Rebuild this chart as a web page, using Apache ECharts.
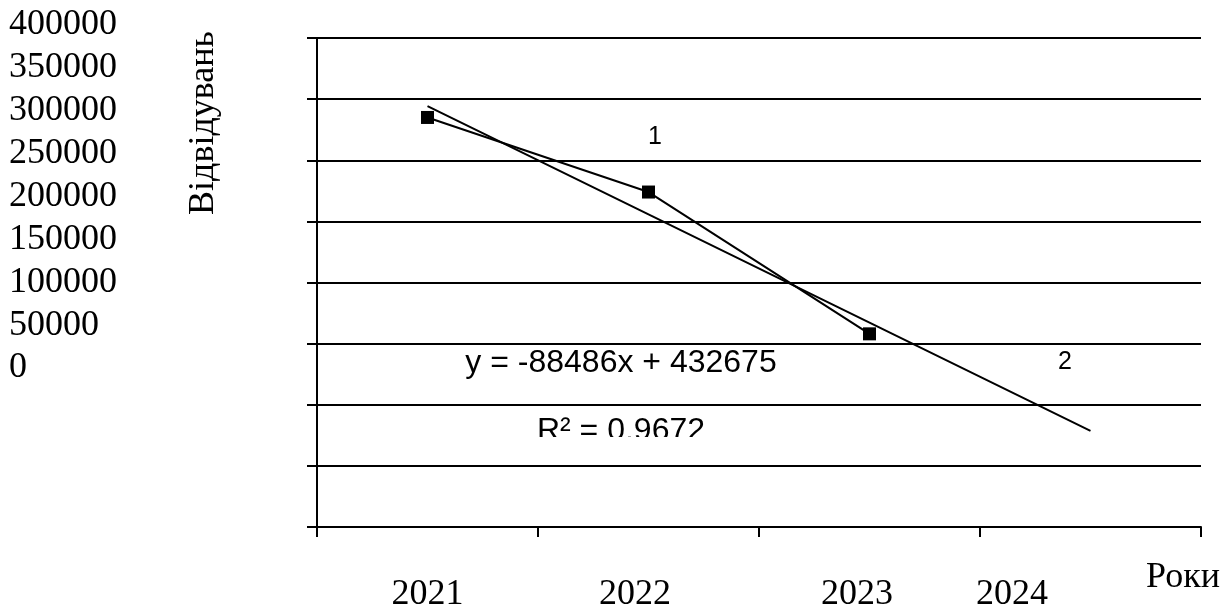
<!DOCTYPE html>
<html>
<head>
<meta charset="utf-8">
<script src="https://cdn.jsdelivr.net/npm/echarts@6/dist/echarts.min.js"></script>
<style>html,body{margin:0;padding:0;background:#fff;}#c{width:1231px;height:610px;}</style>
</head>
<body>
<div id="c"></div>
<script>
var years = ['2021', '2022', '2023', '2024'];
var visits = [335000, 274000, 158000, null];
var trend = [344200, 255700, 167200, 78700];
var yMin = 0, yMax = 400000, yStep = 50000;
var labelShift = [0, 27, 25, 157];
var yTitle = 'Відвідувань';
var xTitle = 'Роки';
var eqText = 'y = -88486x + 432675';
var r2Text = 'R² = 0.9672';
var curveLabels = ['1', '2'];

var serif = '"Liberation Serif", "DejaVu Serif", serif';
var sans = '"Liberation Sans", Arial, sans-serif';

var rich = {};
labelShift.forEach(function (s, i) {
  rich['l' + i] = { fontFamily: serif, fontSize: 36, color: '#000', padding: [0, s, 0, 0] };
});

var chart = echarts.init(document.getElementById('c'), null, { renderer: 'canvas' });
chart.setOption({
  backgroundColor: '#fff',
  animation: false,
  grid: [
    { left: 317, right: 30, top: 38, bottom: 83, containLabel: false, outerBoundsMode: 'none' },
    { left: 140, width: 10, top: 25, height: 343, containLabel: false, outerBoundsMode: 'none' }
  ],
  xAxis: [
    {
      type: 'category', data: years, gridIndex: 0, boundaryGap: true,
      axisLine: { lineStyle: { color: '#000', width: 2 } },
      axisTick: { show: true, length: 10, lineStyle: { color: '#000', width: 2 } },
      axisLabel: {
        margin: 50, color: '#000',
        formatter: function (v, i) { return '{l' + i + '|' + v + '}'; },
        rich: rich
      },
      splitLine: { show: false }
    },
    { type: 'value', gridIndex: 1, show: false }
  ],
  yAxis: [
    {
      type: 'value', gridIndex: 0, min: yMin, max: yMax, interval: yStep,
      axisLine: { show: true, lineStyle: { color: '#000', width: 2 } },
      axisTick: { show: true, length: 10, lineStyle: { color: '#000', width: 2 } },
      axisLabel: { show: false },
      splitLine: { show: true, lineStyle: { color: '#000', width: 2 } }
    },
    {
      type: 'value', gridIndex: 1, min: yMin, max: yMax, interval: yStep,
      axisLine: { show: false }, axisTick: { show: false }, splitLine: { show: false },
      axisLabel: { align: 'left', margin: 131, color: '#000', fontFamily: serif, fontSize: 36,
        formatter: function (v) { return String(v); } }
    }
  ],
  series: [
    {
      type: 'line', data: visits, xAxisIndex: 0, yAxisIndex: 0,
      symbol: 'rect', symbolSize: 13, showSymbol: true,
      lineStyle: { color: '#000', width: 2 }, itemStyle: { color: '#000' }, z: 3
    },
    {
      type: 'line', data: trend, xAxisIndex: 0, yAxisIndex: 0,
      symbol: 'none', lineStyle: { color: '#000', width: 2 }, z: 2
    }
  ],
  graphic: [
    { type: 'text', x: 204, y: 123, rotation: Math.PI / 2,
      style: { text: yTitle, font: '36px ' + serif, fill: '#000', align: 'center', verticalAlign: 'middle' } },
    { type: 'text', x: 1183, y: 578,
      style: { text: xTitle, font: '36px ' + serif, fill: '#000', align: 'center', verticalAlign: 'middle' } },
    { type: 'text', x: 621, y: 363,
      style: { text: eqText, font: '32px ' + sans, fill: '#000', align: 'center', verticalAlign: 'middle' } },
    { type: 'text', x: 621, y: 431, z: 1,
      style: { text: r2Text, font: '32px ' + sans, fill: '#000', align: 'center', verticalAlign: 'middle' } },
    { type: 'rect', shape: { x: 520, y: 437, width: 200, height: 24 }, z: 2,
      style: { fill: '#fff' } },
    { type: 'text', x: 655, y: 137,
      style: { text: curveLabels[0], font: '25px ' + sans, fill: '#000', align: 'center', verticalAlign: 'middle' } },
    { type: 'text', x: 1065, y: 362,
      style: { text: curveLabels[1], font: '25px ' + sans, fill: '#000', align: 'center', verticalAlign: 'middle' } }
  ]
});
</script>
</body>
</html>
